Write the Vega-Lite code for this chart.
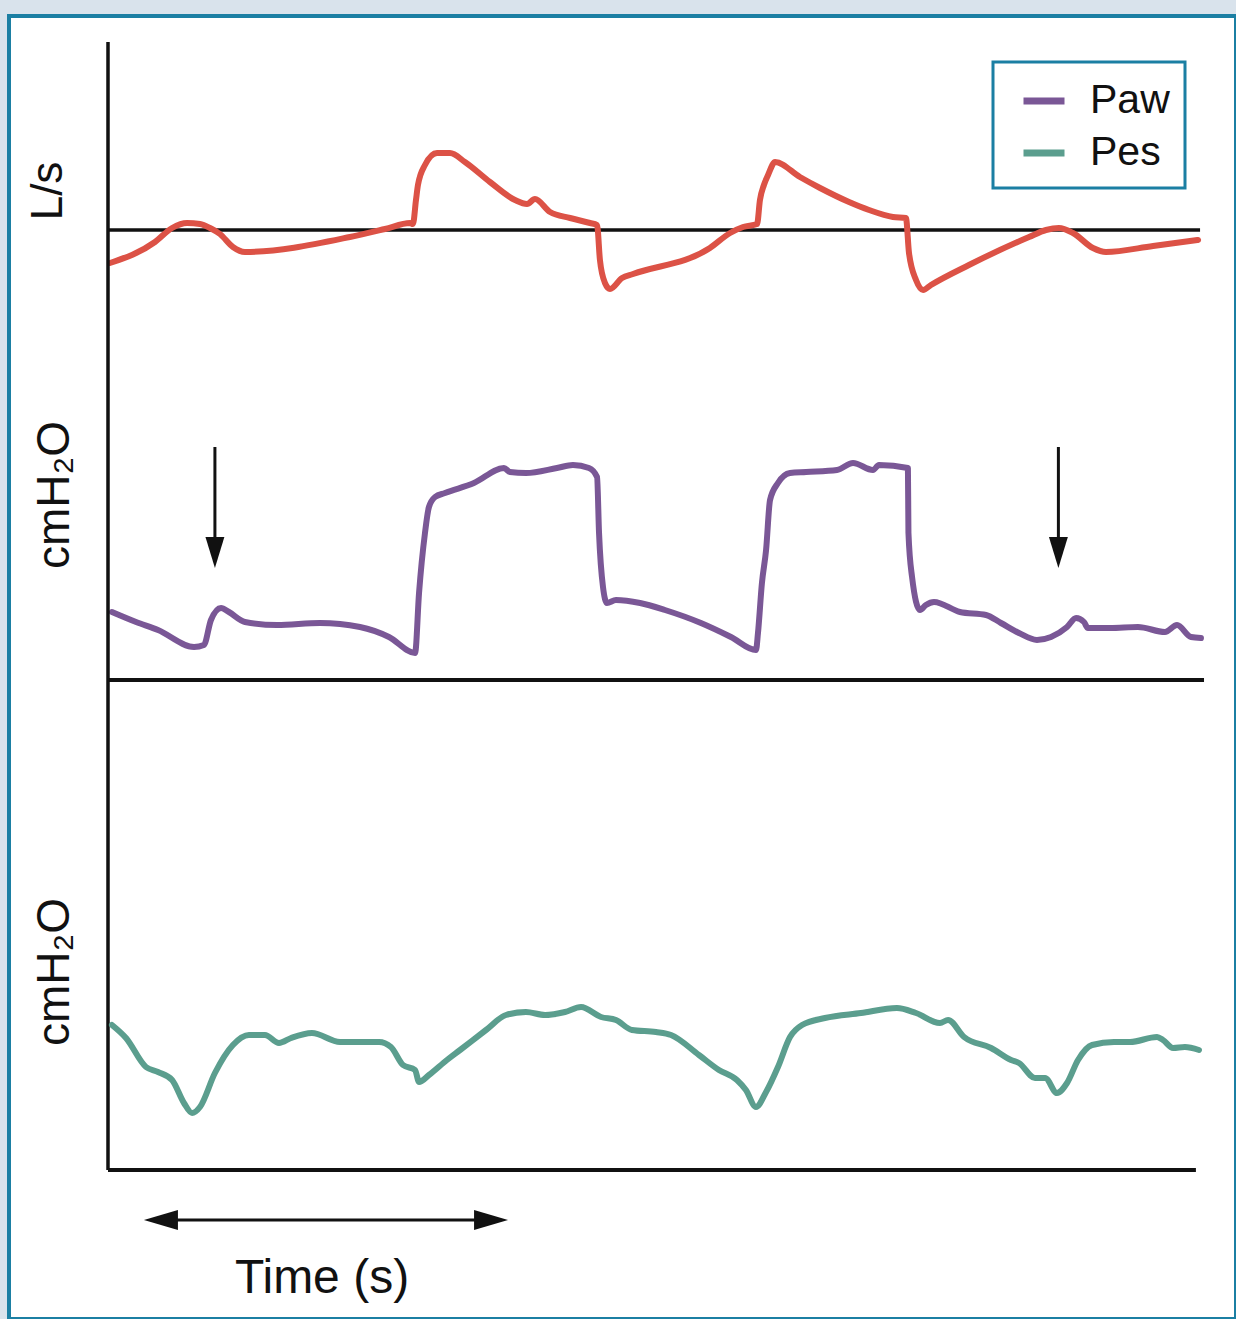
{
  "$schema": "https://vega.github.io/schema/vega-lite/v6.json",
  "autosize": {"type": "fit", "contains": "padding"},
  "width": 1236,
  "height": 1319,
  "padding": {"left": 9, "top": 16, "right": 0, "bottom": 0},
  "background": "#d9e3ec",
  "config": {
    "view": {"fill": "white", "stroke": "#1b7fa3", "strokeWidth": 4},
    "text": {"font": "Liberation Sans", "color": "#111111"},
    "legend": {"strokeWidth": 3}
  },
  "datasets": {
    "flow": [
      {"t": 0.011, "flow": -0.33}, {"t": 0.261, "flow": -0.12}, {"t": 0.356, "flow": 0.02}, {"t": 0.439, "flow": 0.07},
      {"t": 0.511, "flow": 0.06}, {"t": 0.567, "flow": 0.02}, {"t": 0.622, "flow": -0.04}, {"t": 0.694, "flow": -0.17},
      {"t": 0.761, "flow": -0.22}, {"t": 1.344, "flow": -0.07}, {"t": 1.539, "flow": 0.01}, {"t": 1.678, "flow": 0.07},
      {"t": 1.694, "flow": 0.06}, {"t": 1.711, "flow": 0.30}, {"t": 1.722, "flow": 0.45}, {"t": 1.761, "flow": 0.65},
      {"t": 1.828, "flow": 0.77}, {"t": 1.9, "flow": 0.77}, {"t": 1.983, "flow": 0.68}, {"t": 2.122, "flow": 0.48},
      {"t": 2.261, "flow": 0.30}, {"t": 2.328, "flow": 0.26}, {"t": 2.372, "flow": 0.31}, {"t": 2.456, "flow": 0.18},
      {"t": 2.567, "flow": 0.12}, {"t": 2.678, "flow": 0.07}, {"t": 2.717, "flow": 0.05}, {"t": 2.733, "flow": -0.30},
      {"t": 2.761, "flow": -0.53}, {"t": 2.789, "flow": -0.59}, {"t": 2.856, "flow": -0.48}, {"t": 2.917, "flow": -0.44},
      {"t": 3.344, "flow": -0.18}, {"t": 3.456, "flow": -0.03}, {"t": 3.528, "flow": 0.03}, {"t": 3.606, "flow": 0.06},
      {"t": 3.622, "flow": 0.30}, {"t": 3.644, "flow": 0.45}, {"t": 3.667, "flow": 0.55}, {"t": 3.706, "flow": 0.68},
      {"t": 3.844, "flow": 0.53}, {"t": 3.956, "flow": 0.42}, {"t": 4.117, "flow": 0.28}, {"t": 4.228, "flow": 0.20},
      {"t": 4.361, "flow": 0.13}, {"t": 4.433, "flow": 0.12}, {"t": 4.45, "flow": -0.23}, {"t": 4.489, "flow": -0.50},
      {"t": 4.528, "flow": -0.60}, {"t": 4.572, "flow": -0.55}, {"t": 4.783, "flow": -0.35}, {"t": 5.117, "flow": -0.07},
      {"t": 5.211, "flow": 0.00}, {"t": 5.283, "flow": 0.02}, {"t": 5.361, "flow": -0.03}, {"t": 5.472, "flow": -0.18},
      {"t": 5.544, "flow": -0.22}, {"t": 5.806, "flow": -0.16}, {"t": 6.056, "flow": -0.10}
    ],
    "paw": [
      {"t": 0.022, "p": 6.8, "signal": "Paw"}, {"t": 0.156, "p": 5.8, "signal": "Paw"}, {"t": 0.278, "p": 5.0, "signal": "Paw"}, {"t": 0.478, "p": 3.3, "signal": "Paw"},
      {"t": 0.533, "p": 3.5, "signal": "Paw"}, {"t": 0.572, "p": 6.0, "signal": "Paw"}, {"t": 0.628, "p": 7.2, "signal": "Paw"}, {"t": 0.672, "p": 6.8, "signal": "Paw"},
      {"t": 0.761, "p": 5.8, "signal": "Paw"}, {"t": 0.939, "p": 5.5, "signal": "Paw"}, {"t": 1.178, "p": 5.7, "signal": "Paw"}, {"t": 1.4, "p": 5.3, "signal": "Paw"},
      {"t": 1.561, "p": 4.3, "signal": "Paw"}, {"t": 1.706, "p": 2.7, "signal": "Paw"}, {"t": 1.728, "p": 8.7, "signal": "Paw"}, {"t": 1.761, "p": 14.7, "signal": "Paw"},
      {"t": 1.783, "p": 17.3, "signal": "Paw"}, {"t": 1.817, "p": 18.3, "signal": "Paw"}, {"t": 1.872, "p": 18.7, "signal": "Paw"}, {"t": 2.033, "p": 19.7, "signal": "Paw"},
      {"t": 2.2, "p": 21.2, "signal": "Paw"}, {"t": 2.233, "p": 20.8, "signal": "Paw"}, {"t": 2.322, "p": 20.7, "signal": "Paw"}, {"t": 2.494, "p": 21.2, "signal": "Paw"},
      {"t": 2.583, "p": 21.5, "signal": "Paw"}, {"t": 2.672, "p": 21.2, "signal": "Paw"}, {"t": 2.717, "p": 20.3, "signal": "Paw"}, {"t": 2.728, "p": 14.7, "signal": "Paw"},
      {"t": 2.75, "p": 9.3, "signal": "Paw"}, {"t": 2.772, "p": 7.7, "signal": "Paw"}, {"t": 2.822, "p": 8.0, "signal": "Paw"}, {"t": 2.956, "p": 7.7, "signal": "Paw"},
      {"t": 3.094, "p": 7.0, "signal": "Paw"}, {"t": 3.294, "p": 5.7, "signal": "Paw"}, {"t": 3.461, "p": 4.3, "signal": "Paw"}, {"t": 3.6, "p": 3.0, "signal": "Paw"},
      {"t": 3.611, "p": 4.7, "signal": "Paw"}, {"t": 3.633, "p": 9.7, "signal": "Paw"}, {"t": 3.656, "p": 13.0, "signal": "Paw"}, {"t": 3.678, "p": 18.0, "signal": "Paw"},
      {"t": 3.722, "p": 19.7, "signal": "Paw"}, {"t": 3.789, "p": 20.7, "signal": "Paw"}, {"t": 3.878, "p": 20.8, "signal": "Paw"}, {"t": 4.05, "p": 21.0, "signal": "Paw"},
      {"t": 4.139, "p": 21.7, "signal": "Paw"}, {"t": 4.25, "p": 21.0, "signal": "Paw"}, {"t": 4.283, "p": 21.5, "signal": "Paw"}, {"t": 4.444, "p": 21.2, "signal": "Paw"},
      {"t": 4.447, "p": 14.7, "signal": "Paw"}, {"t": 4.467, "p": 10.3, "signal": "Paw"}, {"t": 4.511, "p": 7.0, "signal": "Paw"}, {"t": 4.544, "p": 7.5, "signal": "Paw"},
      {"t": 4.589, "p": 7.8, "signal": "Paw"}, {"t": 4.733, "p": 6.8, "signal": "Paw"}, {"t": 4.878, "p": 6.5, "signal": "Paw"}, {"t": 4.961, "p": 5.7, "signal": "Paw"},
      {"t": 5.061, "p": 4.7, "signal": "Paw"}, {"t": 5.161, "p": 4.0, "signal": "Paw"}, {"t": 5.239, "p": 4.3, "signal": "Paw"}, {"t": 5.328, "p": 5.3, "signal": "Paw"},
      {"t": 5.378, "p": 6.2, "signal": "Paw"}, {"t": 5.422, "p": 5.8, "signal": "Paw"}, {"t": 5.444, "p": 5.2, "signal": "Paw"}, {"t": 5.567, "p": 5.2, "signal": "Paw"},
      {"t": 5.722, "p": 5.3, "signal": "Paw"}, {"t": 5.872, "p": 4.8, "signal": "Paw"}, {"t": 5.939, "p": 5.5, "signal": "Paw"}, {"t": 6.017, "p": 4.3, "signal": "Paw"},
      {"t": 6.072, "p": 4.2, "signal": "Paw"}
    ],
    "pes": [
      {"t": 0.022, "p": 14.5, "signal": "Pes"}, {"t": 0.1, "p": 13.2, "signal": "Pes"}, {"t": 0.211, "p": 10.3, "signal": "Pes"}, {"t": 0.278, "p": 9.8, "signal": "Pes"},
      {"t": 0.356, "p": 9.0, "signal": "Pes"}, {"t": 0.422, "p": 6.7, "signal": "Pes"}, {"t": 0.467, "p": 5.7, "signal": "Pes"}, {"t": 0.511, "p": 6.3, "signal": "Pes"},
      {"t": 0.594, "p": 9.7, "signal": "Pes"}, {"t": 0.694, "p": 12.5, "signal": "Pes"}, {"t": 0.783, "p": 13.5, "signal": "Pes"}, {"t": 0.872, "p": 13.5, "signal": "Pes"},
      {"t": 0.95, "p": 12.7, "signal": "Pes"}, {"t": 1.017, "p": 13.2, "signal": "Pes"}, {"t": 1.133, "p": 13.7, "signal": "Pes"}, {"t": 1.289, "p": 12.8, "signal": "Pes"},
      {"t": 1.506, "p": 12.8, "signal": "Pes"}, {"t": 1.572, "p": 12.3, "signal": "Pes"}, {"t": 1.639, "p": 10.5, "signal": "Pes"}, {"t": 1.706, "p": 10.0, "signal": "Pes"},
      {"t": 1.728, "p": 8.8, "signal": "Pes"}, {"t": 1.783, "p": 9.5, "signal": "Pes"}, {"t": 1.883, "p": 11.0, "signal": "Pes"}, {"t": 1.956, "p": 12.0, "signal": "Pes"},
      {"t": 2.1, "p": 14.0, "signal": "Pes"}, {"t": 2.211, "p": 15.5, "signal": "Pes"}, {"t": 2.322, "p": 15.8, "signal": "Pes"}, {"t": 2.428, "p": 15.5, "signal": "Pes"},
      {"t": 2.539, "p": 15.8, "signal": "Pes"}, {"t": 2.628, "p": 16.3, "signal": "Pes"}, {"t": 2.739, "p": 15.3, "signal": "Pes"}, {"t": 2.822, "p": 15.0, "signal": "Pes"},
      {"t": 2.911, "p": 14.0, "signal": "Pes"}, {"t": 3.044, "p": 13.8, "signal": "Pes"}, {"t": 3.128, "p": 13.5, "signal": "Pes"}, {"t": 3.283, "p": 11.5, "signal": "Pes"},
      {"t": 3.394, "p": 10.0, "signal": "Pes"}, {"t": 3.494, "p": 9.0, "signal": "Pes"}, {"t": 3.544, "p": 8.0, "signal": "Pes"}, {"t": 3.6, "p": 6.3, "signal": "Pes"},
      {"t": 3.656, "p": 7.8, "signal": "Pes"}, {"t": 3.722, "p": 10.3, "signal": "Pes"}, {"t": 3.789, "p": 13.3, "signal": "Pes"}, {"t": 3.856, "p": 14.5, "signal": "Pes"},
      {"t": 3.983, "p": 15.2, "signal": "Pes"}, {"t": 4.183, "p": 15.7, "signal": "Pes"}, {"t": 4.383, "p": 16.2, "signal": "Pes"}, {"t": 4.489, "p": 15.7, "signal": "Pes"},
      {"t": 4.622, "p": 14.7, "signal": "Pes"}, {"t": 4.667, "p": 15.0, "signal": "Pes"}, {"t": 4.756, "p": 13.3, "signal": "Pes"}, {"t": 4.906, "p": 12.2, "signal": "Pes"},
      {"t": 5.017, "p": 11.0, "signal": "Pes"}, {"t": 5.061, "p": 10.7, "signal": "Pes"}, {"t": 5.15, "p": 9.2, "signal": "Pes"}, {"t": 5.206, "p": 9.2, "signal": "Pes"},
      {"t": 5.272, "p": 7.7, "signal": "Pes"}, {"t": 5.328, "p": 8.7, "signal": "Pes"}, {"t": 5.389, "p": 11.0, "signal": "Pes"}, {"t": 5.467, "p": 12.5, "signal": "Pes"},
      {"t": 5.589, "p": 12.8, "signal": "Pes"}, {"t": 5.678, "p": 12.8, "signal": "Pes"}, {"t": 5.828, "p": 13.3, "signal": "Pes"}, {"t": 5.861, "p": 13.0, "signal": "Pes"},
      {"t": 5.917, "p": 12.2, "signal": "Pes"}, {"t": 5.983, "p": 12.3, "signal": "Pes"}, {"t": 6.061, "p": 12.0, "signal": "Pes"}
    ]
  },
  "layer": [
    {
      "layer": [
        {
          "data": {"values": [{}]},
          "mark": {"type": "rule", "color": "#111111", "strokeWidth": 3.5},
          "encoding": {
            "x": {"datum": 0, "type": "quantitative", "scale": {"domain": [-0.55, 6.2667], "nice": false, "zero": false}, "axis": null},
            "x2": {"datum": 6.067},
            "y": {"datum": 0, "type": "quantitative", "scale": {"domain": [-10.89, 2.14], "nice": false, "zero": false}, "axis": null}
          }
        },
        {
          "data": {"name": "flow"},
          "mark": {"type": "line", "color": "#dc5246", "strokeWidth": 6, "strokeJoin": "round", "strokeCap": "round", "interpolate": "monotone"},
          "encoding": {
            "x": {"field": "t", "type": "quantitative", "title": "Time (s)", "scale": {"domain": [-0.55, 6.2667], "nice": false, "zero": false}, "axis": null},
            "y": {"field": "flow", "type": "quantitative", "title": "Flow (L/s)", "scale": {"domain": [-10.89, 2.14], "nice": false, "zero": false}, "axis": null}
          }
        },
        {
          "data": {"values": [{"label": "L/s"}]},
          "mark": {"type": "text", "angle": 270, "align": "center", "baseline": "alphabetic", "fontSize": 44},
          "encoding": {
            "x": {"datum": -0.256, "type": "quantitative", "scale": {"domain": [-0.55, 6.2667], "nice": false, "zero": false}, "axis": null},
            "y": {"datum": 0.39, "type": "quantitative", "scale": {"domain": [-10.89, 2.14], "nice": false, "zero": false}, "axis": null},
            "text": {"field": "label"}
          }
        }
      ]
    },
    {
      "layer": [
        {
          "data": {"values": [{}]},
          "mark": {"type": "rule", "color": "#111111", "strokeWidth": 4},
          "encoding": {
            "x": {"datum": 0, "type": "quantitative", "scale": {"domain": [-0.55, 6.2667], "nice": false, "zero": false}, "axis": null},
            "x2": {"datum": 6.089},
            "y": {"datum": 0, "type": "quantitative", "scale": {"domain": [-63.9, 66.4], "nice": false, "zero": false}, "axis": null}
          }
        },
        {
          "data": {"name": "paw"},
          "mark": {"type": "line", "strokeWidth": 6, "strokeJoin": "round", "strokeCap": "round", "interpolate": "monotone"},
          "encoding": {
            "x": {"field": "t", "type": "quantitative", "title": "Time (s)", "scale": {"domain": [-0.55, 6.2667], "nice": false, "zero": false}, "axis": null},
            "y": {"field": "p", "type": "quantitative", "title": "Paw (cmH₂O)", "scale": {"domain": [-63.9, 66.4], "nice": false, "zero": false}, "axis": null},
            "color": {
              "field": "signal", "type": "nominal",
              "scale": {"domain": ["Paw", "Pes"], "range": ["#7a5796", "#5b9e8e"]},
              "legend": {
                "title": null, "orient": "none", "legendX": 984, "legendY": 46, "direction": "vertical",
                "symbolType": "stroke", "symbolStrokeWidth": 7, "symbolSize": 1681,
                "labelFontSize": 41, "labelFont": "Liberation Sans", "labelColor": "#111111",
                "strokeColor": "#1b7fa3", "fillColor": "white",
                "padding": 15, "rowPadding": 8, "labelOffset": 22, "symbolOffset": 12
              }
            }
          }
        },
        {
          "data": {"values": [{"t": 0.594}, {"t": 5.28}]},
          "mark": {"type": "rule", "color": "#111111", "strokeWidth": 3},
          "encoding": {
            "x": {"field": "t", "type": "quantitative", "scale": {"domain": [-0.55, 6.2667], "nice": false, "zero": false}, "axis": null},
            "y": {"datum": 23.3, "type": "quantitative", "scale": {"domain": [-63.9, 66.4], "nice": false, "zero": false}, "axis": null},
            "y2": {"datum": 13.8}
          }
        },
        {
          "data": {"values": [{"t": 0.594}, {"t": 5.28}]},
          "mark": {"type": "point", "shape": "M-0.61,-1L0.61,-1L0,1Z", "size": 961, "filled": true, "opacity": 1, "color": "#111111"},
          "encoding": {
            "x": {"field": "t", "type": "quantitative", "scale": {"domain": [-0.55, 6.2667], "nice": false, "zero": false}, "axis": null},
            "y": {"datum": 12.75, "type": "quantitative", "scale": {"domain": [-63.9, 66.4], "nice": false, "zero": false}, "axis": null}
          }
        },
        {
          "data": {"values": [{"label": "cmH₂O"}]},
          "mark": {"type": "text", "angle": 270, "align": "center", "baseline": "alphabetic", "fontSize": 46},
          "encoding": {
            "x": {"datum": -0.217, "type": "quantitative", "scale": {"domain": [-0.55, 6.2667], "nice": false, "zero": false}, "axis": null},
            "y": {"datum": 18.5, "type": "quantitative", "scale": {"domain": [-63.9, 66.4], "nice": false, "zero": false}, "axis": null},
            "text": {"field": "label"}
          }
        }
      ]
    },
    {
      "layer": [
        {
          "data": {"values": [{}]},
          "mark": {"type": "rule", "color": "#111111", "strokeWidth": 3.5},
          "encoding": {
            "x": {"datum": 0, "type": "quantitative", "scale": {"domain": [-0.55, 6.2667], "nice": false, "zero": false}, "axis": null},
            "y": {"datum": 112.8, "type": "quantitative", "scale": {"domain": [-14.9, 115.4], "nice": false, "zero": false}, "axis": null},
            "y2": {"datum": 0}
          }
        },
        {
          "data": {"values": [{}]},
          "mark": {"type": "rule", "color": "#111111", "strokeWidth": 4},
          "encoding": {
            "x": {"datum": 0, "type": "quantitative", "scale": {"domain": [-0.55, 6.2667], "nice": false, "zero": false}, "axis": null},
            "x2": {"datum": 6.044},
            "y": {"datum": 0, "type": "quantitative", "scale": {"domain": [-14.9, 115.4], "nice": false, "zero": false}, "axis": null}
          }
        },
        {
          "data": {"name": "pes"},
          "mark": {"type": "line", "strokeWidth": 6, "strokeJoin": "round", "strokeCap": "round", "interpolate": "monotone"},
          "encoding": {
            "x": {"field": "t", "type": "quantitative", "title": "Time (s)", "scale": {"domain": [-0.55, 6.2667], "nice": false, "zero": false}, "axis": null},
            "y": {"field": "p", "type": "quantitative", "title": "Pes (cmH₂O)", "scale": {"domain": [-14.9, 115.4], "nice": false, "zero": false}, "axis": null},
            "color": {
              "field": "signal", "type": "nominal",
              "scale": {"domain": ["Paw", "Pes"], "range": ["#7a5796", "#5b9e8e"]}
            }
          }
        },
        {
          "data": {"values": [{}]},
          "mark": {"type": "rule", "color": "#111111", "strokeWidth": 3},
          "encoding": {
            "x": {"datum": 0.3, "type": "quantitative", "scale": {"domain": [-0.55, 6.2667], "nice": false, "zero": false}, "axis": null},
            "x2": {"datum": 2.12},
            "y": {"datum": -5, "type": "quantitative", "scale": {"domain": [-14.9, 115.4], "nice": false, "zero": false}, "axis": null}
          }
        },
        {
          "data": {"values": [{}]},
          "mark": {"type": "point", "shape": "M-1,0L1,-0.59L1,0.59Z", "size": 1156, "filled": true, "opacity": 1, "color": "#111111"},
          "encoding": {
            "x": {"datum": 0.294, "type": "quantitative", "scale": {"domain": [-0.55, 6.2667], "nice": false, "zero": false}, "axis": null},
            "y": {"datum": -5, "type": "quantitative", "scale": {"domain": [-14.9, 115.4], "nice": false, "zero": false}, "axis": null}
          }
        },
        {
          "data": {"values": [{}]},
          "mark": {"type": "point", "shape": "M1,0L-1,-0.59L-1,0.59Z", "size": 1156, "filled": true, "opacity": 1, "color": "#111111"},
          "encoding": {
            "x": {"datum": 2.128, "type": "quantitative", "scale": {"domain": [-0.55, 6.2667], "nice": false, "zero": false}, "axis": null},
            "y": {"datum": -5, "type": "quantitative", "scale": {"domain": [-14.9, 115.4], "nice": false, "zero": false}, "axis": null}
          }
        },
        {
          "data": {"values": [{"label": "cmH₂O"}]},
          "mark": {"type": "text", "angle": 270, "align": "center", "baseline": "alphabetic", "fontSize": 46},
          "encoding": {
            "x": {"datum": -0.217, "type": "quantitative", "scale": {"domain": [-0.55, 6.2667], "nice": false, "zero": false}, "axis": null},
            "y": {"datum": 19.8, "type": "quantitative", "scale": {"domain": [-14.9, 115.4], "nice": false, "zero": false}, "axis": null},
            "text": {"field": "label"}
          }
        },
        {
          "data": {"values": [{"label": "Time (s)"}]},
          "mark": {"type": "text", "align": "center", "baseline": "alphabetic", "fontSize": 48},
          "encoding": {
            "x": {"datum": 1.189, "type": "quantitative", "scale": {"domain": [-0.55, 6.2667], "nice": false, "zero": false}, "axis": null},
            "y": {"datum": -12.3, "type": "quantitative", "scale": {"domain": [-14.9, 115.4], "nice": false, "zero": false}, "axis": null},
            "text": {"field": "label"}
          }
        }
      ]
    }
  ],
  "resolve": {"scale": {"y": "independent"}}
}
